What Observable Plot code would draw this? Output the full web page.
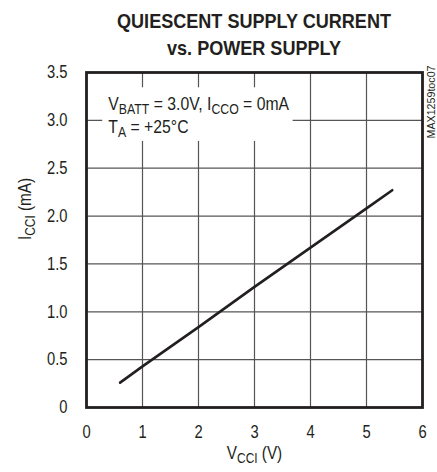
<!DOCTYPE html>
<html><head><meta charset="utf-8">
<script src="https://cdn.jsdelivr.net/npm/d3@7"></script>
<script src="https://cdn.jsdelivr.net/npm/@observablehq/plot@0.6"></script>
<style>
body{margin:0;background:#fff;font-family:"Liberation Sans",Arial,sans-serif;color:#231f20;}
#title{margin-left:86px;width:336px;text-align:center;font-weight:bold;font-size:21px;line-height:27px;height:51px;padding-top:7px;white-space:nowrap;transform:scaleX(0.86);transform-origin:50% 50%;}
svg{display:block;}
</style></head>
<body>
<div id="title">QUIESCENT SUPPLY CURRENT<br>vs. POWER SUPPLY</div>
<div id="chart"></div>
<script>
// ---- data ----
const vcci = [0.6, 1, 2, 3, 4, 5, 5.46];          // V
const icci = [0.26, 0.43, 0.84, 1.26, 1.67, 2.08, 2.27]; // mA
const xTicks = [0, 1, 2, 3, 4, 5, 6];
const yTicks = [0, 0.5, 1, 1.5, 2, 2.5, 3, 3.5];
const yTickLabels = ["0", "0.5", "1.0", "1.5", "2.0", "2.5", "3.0", "3.5"];
const gridX = [1, 2, 3, 4, 5];
const gridY = [0.5, 1, 1.5, 2, 2.5, 3];
const noteLines = ["V_{BATT} = 3.0V, I_{CCO} = 0mA", "T_{A} = +25°C"];
const noteX = [0.39, 0.39];
const noteY = [3.17, 2.93];
const noteBox = [{x1: 0.29, x2: 3.69, y1: 2.78, y2: 3.34}];
const xLabel = ["V_{CCI} (V)"];
const yLabel = ["I_{CCI} (mA)"];
const sideNote = ["MAX1259toc07"];

const data = vcci.map((v, i) => ({v, i: icci[i]}));
const ink = "#231f20";

const plot = Plot.plot({
  width: 437,
  height: 414,
  marginTop: 14,
  marginBottom: 65,
  marginLeft: 86,
  marginRight: 15,
  style: {fontFamily: "'Liberation Sans',Arial,sans-serif", fontSize: "17px", color: ink, background: "white", overflow: "visible"},
  x: {domain: [0, 6]},
  y: {domain: [0, 3.5]},
  marks: [
    Plot.ruleX(gridX, {stroke: "#555", strokeWidth: 1.2}),
    Plot.ruleY(gridY, {stroke: "#555", strokeWidth: 1.2}),
    Plot.rect(noteBox, {x1: "x1", x2: "x2", y1: "y1", y2: "y2", fill: "white"}),
    Plot.line(data, {x: "v", y: "i", stroke: ink, strokeWidth: 2.6}),
    Plot.frame({stroke: ink, strokeWidth: 2.8}),
    Plot.text(noteLines, {x: (d, i) => noteX[i], y: (d, i) => noteY[i], text: d => d, textAnchor: "start", fontSize: 19, fill: ink}),
    Plot.axisX(xTicks, {tickSize: 0, tickPadding: 18, fontSize: 18, tickFormat: d => String(d), label: null}),
    Plot.axisY(yTicks, {tickSize: 0, tickPadding: 19, fontSize: 18, tickFormat: (d, i) => yTickLabels[i], label: null}),
    Plot.text(xLabel, {text: d => d, frameAnchor: "bottom", dy: 51, fontSize: 18, fill: ink}),
    Plot.text(yLabel, {text: d => d, frameAnchor: "left", rotate: -90, dx: -61, fontSize: 18, fill: ink}),
    Plot.text(sideNote, {text: d => d, frameAnchor: "top-right", rotate: -90, dx: 5, dy: -7, textAnchor: "end", fontSize: 11, fill: ink})
  ]
});

// turn "_{...}" markers into real subscripts
plot.querySelectorAll("text").forEach(t => {
  const s = t.textContent;
  if (!s.includes("_{")) return;
  while (t.firstChild) t.removeChild(t.firstChild);
  const parts = s.split(/(_\{[^}]*\})/);
  let shifted = false;
  parts.forEach(p => {
    if (!p) return;
    const ts = document.createElementNS("http://www.w3.org/2000/svg", "tspan");
    if (p.startsWith("_{")) {
      ts.textContent = p.slice(2, -1);
      ts.setAttribute("font-size", "0.78em");
      ts.setAttribute("dy", "4");
      shifted = true;
    } else {
      ts.textContent = p;
      if (shifted) { ts.setAttribute("dy", "-4"); shifted = false; }
    }
    t.appendChild(ts);
  });
});

document.getElementById("chart").appendChild(plot);

// narrow typeface look (Helvetica Narrow style of the reference): squeeze along the text direction
function condense(nodes, f) {
  nodes.forEach(t => {
    const tr = t.getAttribute("transform") || "";
    const x = +(t.getAttribute("x") || 0), y = +(t.getAttribute("y") || 0);
    const yy = isNaN(y) ? 0 : y;
    t.setAttribute("transform", `${tr} translate(${x},${yy}) scale(${f},1) translate(${-x},${-yy})`);
  });
}
condense(plot.querySelectorAll('g[aria-label="x-axis tick label"] text, g[aria-label="y-axis tick label"] text'), 0.82);
const textGroups = plot.querySelectorAll('g[aria-label="text"]');
condense(textGroups[0].querySelectorAll("text"), 0.83);
condense(textGroups[1].querySelectorAll("text"), 0.85);
condense(textGroups[2].querySelectorAll("text"), 0.85);
condense(textGroups[3].querySelectorAll("text"), 0.97);
</script>
</body></html>
